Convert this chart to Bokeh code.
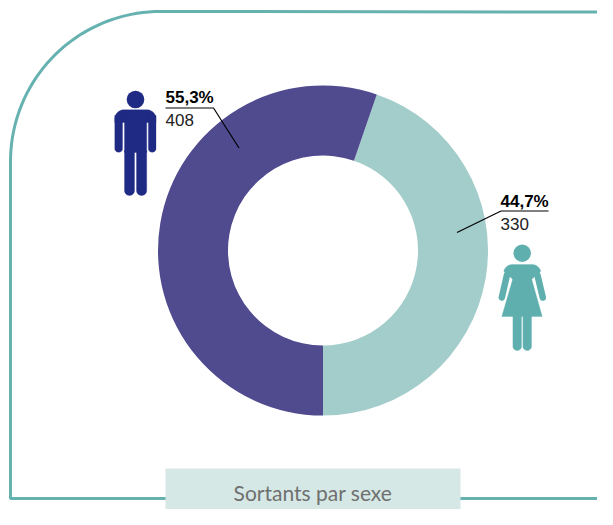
import math
from bokeh.embed import file_html
from bokeh.resources import INLINE
from bokeh.plotting import figure
from bokeh.models import ColumnDataSource, Range1d
from bokeh.core.properties import value

# --- data ---
categories = ["Femmes", "Hommes"]
counts = [330, 408]
pct_labels = ["44,7%", "55,3%"]
count_labels = ["330", "408"]
slice_colors = ["#a2cdca", "#504a8f"]
title_text = "Sortants par sexe"

W, H = 597, 509
FRAME = "#66b2b0"
NAVY = "#1f2a84"
TEAL = "#60afaf"

p = figure(width=W, height=H, output_backend="svg", toolbar_location=None,
           x_range=Range1d(0, W), y_range=Range1d(H, 0),
           min_border=0, min_border_left=0, min_border_right=0,
           min_border_top=0, min_border_bottom=0, outline_line_color=None)
p.xaxis.visible = False
p.yaxis.visible = False
p.grid.visible = False
p.background_fill_color = "white"


def arc(cx, cy, r, a0, a1, n=14):
    return [(cx + r * math.cos(math.radians(a0 + (a1 - a0) * i / n)),
             cy + r * math.sin(math.radians(a0 + (a1 - a0) * i / n))) for i in range(n + 1)]


def rrect(x0, y0, x1, y1, rt=0.0, rb=0.0):
    pts = []
    pts += arc(x0 + rt, y0 + rt, rt, 180, 270) if rt else [(x0, y0)]
    pts += arc(x1 - rt, y0 + rt, rt, 270, 360) if rt else [(x1, y0)]
    pts += arc(x1 - rb, y1 - rb, rb, 0, 90) if rb else [(x1, y1)]
    pts += arc(x0 + rb, y1 - rb, rb, 90, 180) if rb else [(x0, y1)]
    return [a for a, _ in pts], [b for _, b in pts]


def shape(pts_xy, color):
    p.patch(pts_xy[0], pts_xy[1], fill_color=color, line_color=color, line_width=0.3)


# frame
corner = arc(160, 161, 150, 270, 180, 40)
fx = [W] + [c[0] for c in corner] + [10, W]
fy = [11.5] + [c[1] for c in corner] + [498, 498]
p.line(fx, fy, line_color=FRAME, line_width=3)

# title box
p.quad(left=165, right=460, top=468, bottom=H, fill_color="#d5e8e5", line_color=None)
p.text([312.5], [492], text=[title_text], text_font=value("Lato"), text_font_size="21px",
       text_color="#707070", text_align="center", text_baseline="middle")

# donut: angles taken from the counts, counter-clockwise from the bottom
total = sum(counts)
start = -math.pi / 2
starts, ends = [], []
for c in counts:
    sweep = 2 * math.pi * c / total
    starts.append(start)
    ends.append(start + sweep)
    start += sweep
src = ColumnDataSource(dict(cat=categories, s=starts, e=ends, c=slice_colors))
p.annular_wedge(x=322.5, y=250, inner_radius=95, outer_radius=165, start_angle="s", end_angle="e",
                fill_color="c", line_color=None, source=src, direction="anticlock")

# leaders
p.line([500.5, 548], [210.5, 210.5], line_color="black", line_width=1.2)
p.line([500.5, 456.5], [210.5, 232], line_color="black", line_width=1.2)
p.line([165, 213, 238.5], [107.5, 107.5, 147.5], line_color="black", line_width=1.2)

# labels
FONT = value("Liberation Sans")
p.text([500], [200.5], text=[pct_labels[0]], text_font=FONT, text_font_size="17px",
       text_font_style="bold", text_color="black", text_baseline="middle")
p.text([500], [223], text=[count_labels[0]], text_font=FONT, text_font_size="17px",
       text_color="#222222", text_baseline="middle")
p.text([165], [97], text=[pct_labels[1]], text_font=FONT, text_font_size="17px",
       text_font_style="bold", text_color="black", text_baseline="middle")
p.text([165], [119], text=[count_labels[1]], text_font=FONT, text_font_size="17px",
       text_color="#222222", text_baseline="middle")

# man icon
p.circle([135], [99], radius=8.8, fill_color=NAVY, line_color=None)
shape(rrect(114.3, 109.3, 155.5, 122, rt=9), NAVY)
shape(rrect(114.3, 115, 122, 151.7, rb=3.6), NAVY)
shape(rrect(147.9, 115, 155.5, 151.7, rb=3.6), NAVY)
shape(rrect(124, 112, 146.2, 152), NAVY)
shape(rrect(124, 150, 134, 195, rb=5), NAVY)
shape(rrect(136, 150, 146.2, 195, rb=5), NAVY)

# woman icon
p.circle([521.7], [252.7], radius=8.7, fill_color=TEAL, line_color=None)
left_sh = arc(512, 273, 9, 195, 270)
right_sh = arc(531.5, 273, 9, 270, 345)
sh = left_sh + right_sh + [(531, 279), (512.5, 279)]
p.patch([a for a, _ in sh], [b for _, b in sh], fill_color=TEAL, line_color=TEAL, line_width=0.3)
p.patch([512.7, 530.7, 541.7, 501.3], [277, 277, 316, 316], fill_color=TEAL, line_color=TEAL, line_width=0.3)
p.line([506.6, 501.3], [274, 297], line_color=TEAL, line_width=6.5, line_cap="round")
p.line([536.8, 542.3], [274, 297], line_color=TEAL, line_width=6.5, line_cap="round")
shape(rrect(512.4, 314, 521, 350, rb=4.2), TEAL)
shape(rrect(522.4, 314, 531, 350, rb=4.2), TEAL)

open("out.html", "w").write(file_html(p, INLINE))
